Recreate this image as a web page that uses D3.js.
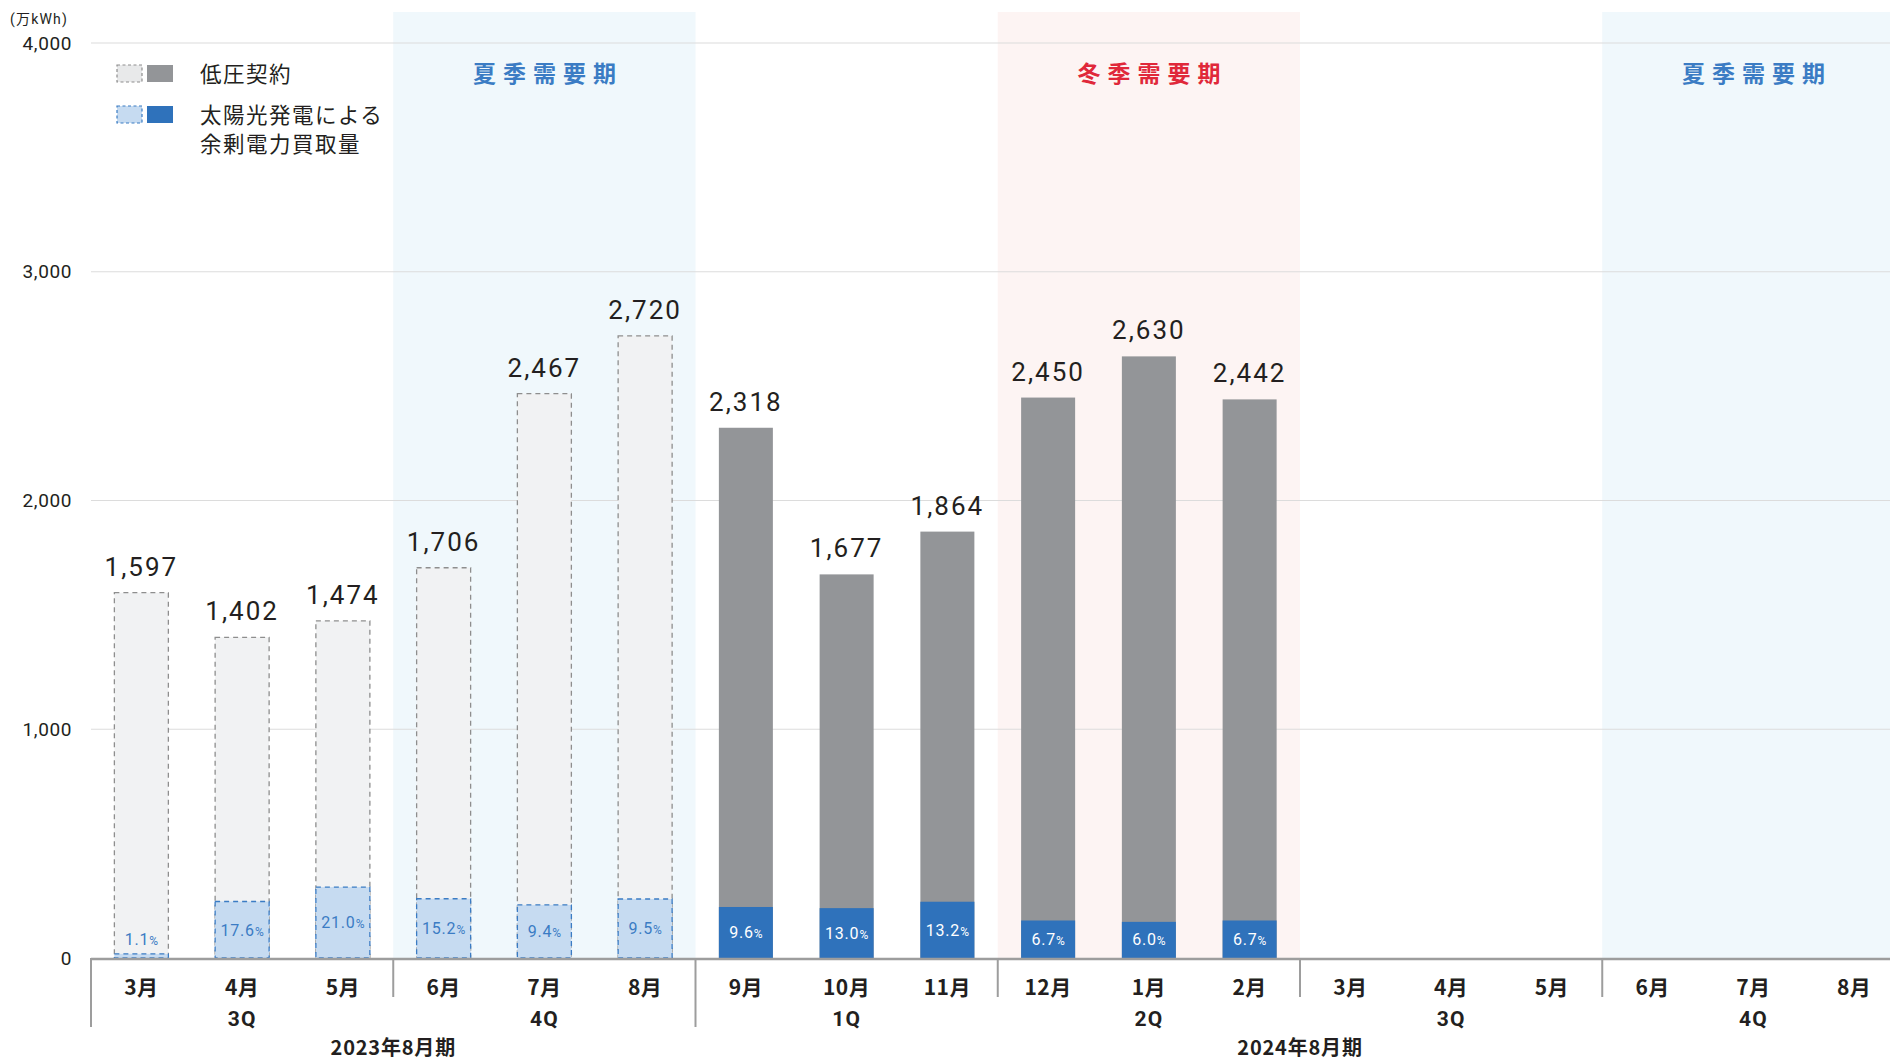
<!DOCTYPE html>
<html><head><meta charset="utf-8">
<script src="https://cdn.jsdelivr.net/npm/d3@7/dist/d3.min.js"></script>
<style>
html,body{margin:0;padding:0;background:#fff;}
svg{display:block;}
text{font-family:Roboto,"Noto Sans CJK JP",sans-serif;}
.jp{font-family:"Noto Sans CJK JP",sans-serif;}
</style></head>
<body>
<svg id="c" width="1890" height="1060"></svg>
<script>
// ---- data ----
const months = ["3月","4月","5月","6月","7月","8月","9月","10月","11月","12月","1月","2月","3月","4月","5月","6月","7月","8月"];
const totals = [1597,1402,1474,1706,2467,2720,2318,1677,1864,2450,2630,2442,null,null,null,null,null,null];
const solar  = [18,247,310,259,232,258,223,218,246,164,158,164,null,null,null,null,null,null];
const solarPct = ["1.1","17.6","21.0","15.2","9.4","9.5","9.6","13.0","13.2","6.7","6.0","6.7",null,null,null,null,null,null];
const reference = [true,true,true,true,true,true,false,false,false,false,false,false,false,false,false,false,false,false];
const quarters = [{label:"3Q",start:0},{label:"4Q",start:3},{label:"1Q",start:6},{label:"2Q",start:9},{label:"3Q",start:12},{label:"4Q",start:15}];
const fiscalYears = [{label:"2023年8月期",start:0,end:6},{label:"2024年8月期",start:6,end:18}];
const seasons = [{label:"夏季需要期",start:3,end:6,type:"summer"},{label:"冬季需要期",start:9,end:12,type:"winter"},{label:"夏季需要期",start:15,end:18,type:"summer"}];
const yTicks = [0,1000,2000,3000,4000];
const legendItems = [{lines:["低圧契約"],kind:"grid"},{lines:["太陽光発電による","余剰電力買取量"],kind:"solar"}];

// ---- layout ----
const svg = d3.select("#c");
const idx = d3.range(months.length);
const x = d3.scaleBand().domain(idx).range([91, 1904.5]).paddingInner(0.464).paddingOuter(0.232);
const step = x.step();
const edge = i => x(i) - (step - x.bandwidth())/2; // band left boundary
const y = d3.scaleLinear().domain([0,4000]).range([958, 43]);
const x0 = 91, xEnd = 1890;

const C = {
  gridFill:"#939598", gridRefFill:"#f1f2f3", gridRefStroke:"#8e8e8e",
  solarFill:"#2f72bb", solarRefFill:"#c6dbf1", solarRefStroke:"#3b7cc4",
  summer:"#f0f8fc", winter:"#fdf4f3", summerText:"#3b7cc4", winterText:"#e0283a",
  text:"#231f20", axis:"#9d9d9d", gridline:"#dcdcdc"
};

// season shading
svg.append("g").selectAll("rect").data(seasons).join("rect")
  .attr("x", d => edge(d.start)).attr("y", 12)
  .attr("width", d => (d.end - d.start) * step)
  .attr("height", y(0) - 12)
  .attr("fill", d => d.type==="summer"?C.summer:C.winter);

// gridlines
svg.append("g").selectAll("line").data(yTicks.filter(t=>t>0)).join("line")
  .attr("x1", x0).attr("x2", xEnd).attr("y1", d=>y(d)).attr("y2", d=>y(d))
  .attr("stroke", C.gridline).attr("stroke-width", 1.2);

// y axis labels
svg.append("g").selectAll("text").data(yTicks).join("text")
  .attr("x", 72).attr("y", d=>y(d)).attr("dy","0.35em").attr("text-anchor","end")
  .attr("font-size", 19).attr("fill", C.text).attr("letter-spacing", 0.6)
  .text(d => d3.format(",")(d));
svg.append("text").attr("x", 10).attr("y", 24).attr("font-size", 14).attr("fill", C.text)
  .attr("letter-spacing", 1.2).text("(万kWh)");

// season labels
svg.append("g").selectAll("text").data(seasons).join("text").attr("class","jp")
  .attr("x", d => edge(d.start) + 1.5*step + 3.5).attr("y", 74).attr("dy","0.36em")
  .attr("text-anchor","middle").attr("font-size", 23).attr("font-weight", 700)
  .attr("letter-spacing", 7)
  .attr("fill", d => d.type==="summer"?C.summerText:C.winterText).text(d=>d.label);

// bars
const data = idx.filter(i => totals[i] != null).map(i => ({i, total: totals[i], solar: solar[i], pct: solarPct[i], ref: reference[i]}));
const bars = svg.append("g").selectAll("g").data(data).join("g");
bars.append("rect")
  .attr("x", d => x(d.i)).attr("width", x.bandwidth())
  .attr("y", d => y(d.total)).attr("height", d => y(0) - y(d.total))
  .attr("fill", d => d.ref ? C.gridRefFill : C.gridFill)
  .attr("stroke", d => d.ref ? C.gridRefStroke : "none")
  .attr("stroke-width", 1.3).attr("stroke-dasharray", "5,4");
bars.append("rect")
  .attr("x", d => x(d.i)).attr("width", x.bandwidth())
  .attr("y", d => y(d.solar)).attr("height", d => y(0) - y(d.solar))
  .attr("fill", d => d.ref ? C.solarRefFill : C.solarFill)
  .attr("stroke", d => d.ref ? C.solarRefStroke : "none")
  .attr("stroke-width", 1.3).attr("stroke-dasharray", "5,4");
// total labels
bars.append("text")
  .attr("x", d => x(d.i) + x.bandwidth()/2).attr("y", d => y(d.total) - 17)
  .attr("text-anchor","middle").attr("font-size", 26).attr("fill", C.text)
  .attr("letter-spacing", 2)
  .text(d => d3.format(",")(d.total));
// percent labels
const pt = bars.append("text")
  .attr("x", d => x(d.i) + x.bandwidth()/2)
  .attr("y", d => y(0) - Math.max((y(0)-y(d.solar))/2, 19))
  .attr("dy","0.36em").attr("text-anchor","middle")
  .attr("fill", d => d.ref ? C.solarRefStroke : "#fff");
pt.append("tspan").attr("font-size", 16).attr("letter-spacing", 0.8).text(d => d.pct);
pt.append("tspan").attr("font-size", 12).text("%");

// x axis line
svg.append("line").attr("x1", x0).attr("x2", xEnd).attr("y1", y(0)+1).attr("y2", y(0)+1)
  .attr("stroke", C.axis).attr("stroke-width", 2.5);
// separators
const fyStarts = fiscalYears.map(f => f.start);
svg.append("g").selectAll("line").data(quarters).join("line")
  .attr("x1", d => edge(d.start)).attr("x2", d => edge(d.start))
  .attr("y1", y(0)).attr("y2", d => fyStarts.includes(d.start) ? 1027 : 997)
  .attr("stroke", C.axis).attr("stroke-width", 2);

// month labels
svg.append("g").selectAll("text").data(idx).join("text").attr("class","jp")
  .attr("x", i => x(i) + x.bandwidth()/2).attr("y", 987).attr("dy","0.36em")
  .attr("text-anchor","middle").attr("font-size", 21).attr("font-weight", 700).attr("fill", C.text)
  .attr("letter-spacing", 0.5)
  .text(i => months[i]);
// quarter labels
svg.append("g").selectAll("text").data(quarters).join("text")
  .attr("x", d => edge(d.start) + 1.5*step).attr("y", 1018).attr("dy","0.36em")
  .attr("text-anchor","middle").attr("font-size", 21).attr("font-weight", 700).attr("fill", C.text)
  .attr("letter-spacing", 1)
  .text(d => d.label);
// fiscal year labels
svg.append("g").selectAll("text").data(fiscalYears).join("text").attr("class","jp")
  .attr("x", d => edge(d.start) + (d.end-d.start)*step/2).attr("y", 1048).attr("dy","0.36em")
  .attr("text-anchor","middle").attr("font-size", 20).attr("font-weight", 700).attr("fill", C.text)
  .attr("letter-spacing", 0.8)
  .text(d => d.label);

// legend
const lg = svg.append("g").selectAll("g").data(legendItems).join("g")
  .attr("transform", (d,k) => `translate(117,${k===0?65:106})`);
lg.append("rect").attr("x",0).attr("y",0).attr("width",25).attr("height",17)
  .attr("fill", d => d.kind==="grid" ? "#e8e9ea" : C.solarRefFill)
  .attr("stroke", d => d.kind==="grid" ? C.gridRefStroke : C.solarRefStroke)
  .attr("stroke-width",1.2).attr("stroke-dasharray","3,2.5");
lg.append("rect").attr("x",30).attr("y",0).attr("width",26).attr("height",17)
  .attr("fill", d => d.kind==="grid" ? C.gridFill : C.solarFill);
const lt = lg.append("text").attr("class","jp")
  .attr("font-size", 21.5).attr("letter-spacing", 1.5).attr("fill", C.text);
lt.selectAll("tspan").data(d => d.lines).join("tspan")
  .attr("x", 83).attr("y", (ln,k) => 9 + k*29).attr("dy","0.36em").text(ln => ln);
</script>
</body></html>
